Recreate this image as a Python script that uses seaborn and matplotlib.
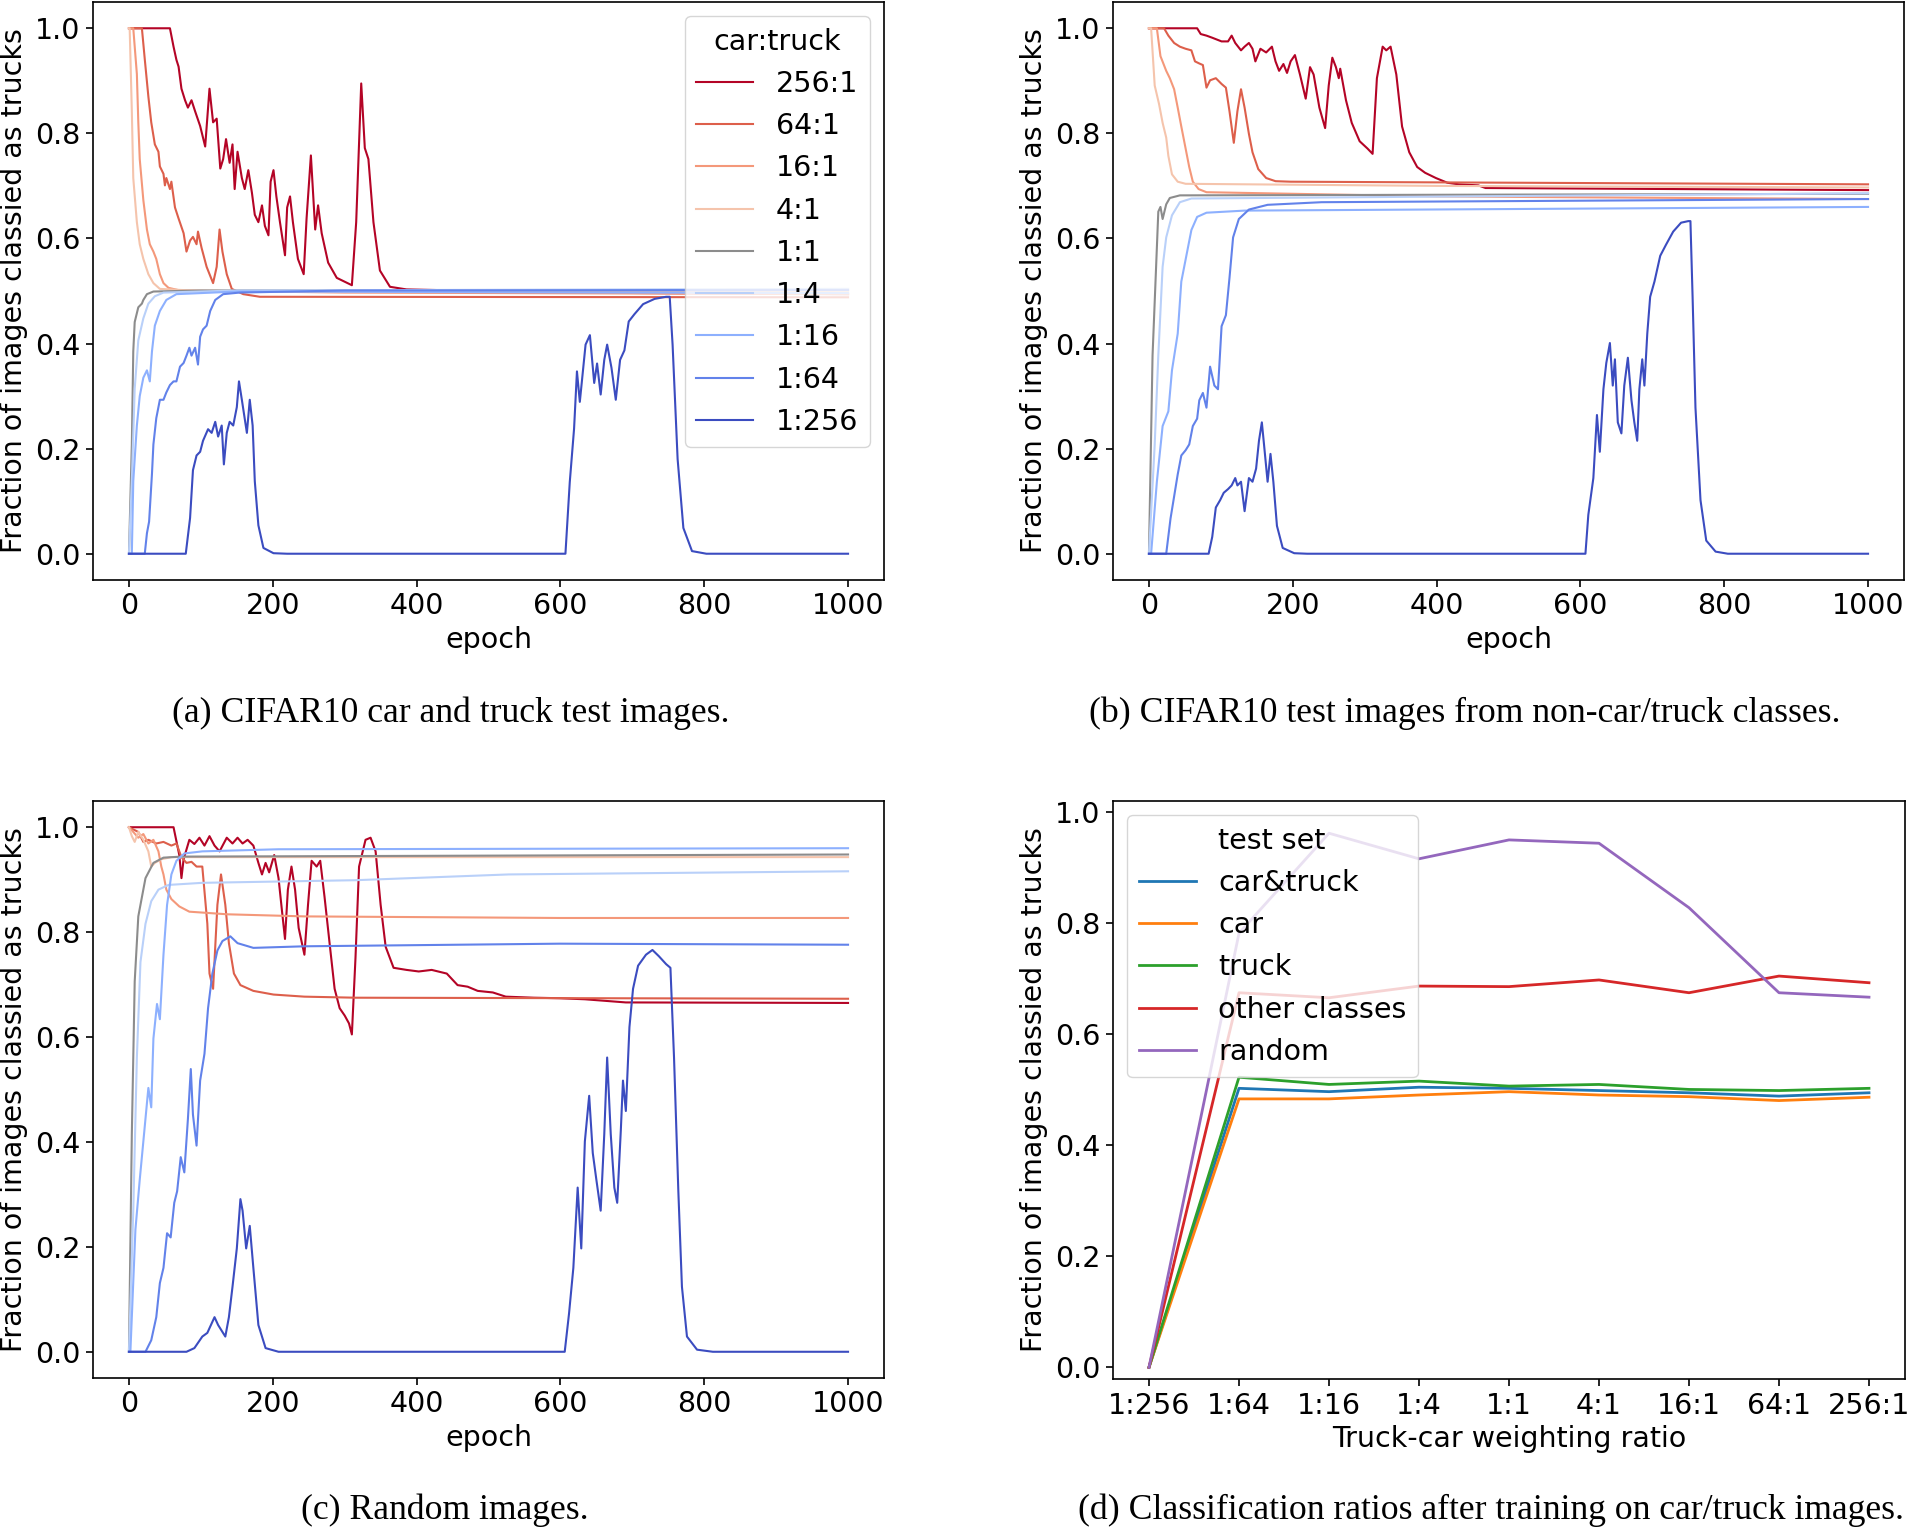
import numpy as np
import pandas as pd
import matplotlib
matplotlib.use("Agg")
import matplotlib.pyplot as plt
import seaborn as sns
from matplotlib.lines import Line2D

# ---------------- data ----------------
RATIOS = ["256:1", "64:1", "16:1", "4:1", "1:1", "1:4", "1:16", "1:64", "1:256"]

# (a) CIFAR10 car and truck test images: (epoch, fraction) pairs
A_256_1 = [(0,1.0),(57,1.0),(62,.965),(66,.94),(69,.927),(73,.885),(78,.863),(82,.849),(87,.863),(92,.842),(99,.814),(106,.775),(112,.885),(117,.821),(122,.828),(127,.733),(131,.751),(135,.789),(140,.744),(144,.779),(147,.694),(151,.765),(157,.715),(161,.694),(166,.730),(171,.687),(175,.645),(180,.631),(185,.663),(189,.624),(194,.606),(197,.708),(201,.730),(205,.680),(210,.631),(217,.568),(220,.659),(224,.680),(228,.631),(235,.561),(243,.532),(247,.638),(253,.758),(259,.617),(263,.663),(268,.610),(277,.554),(289,.525),(310,.511),(316,.631),(323,.895),(328,.772),(333,.751),(340,.631),(349,.539),(363,.508),(386,.503),(600,.497),(1000,.494)]
A_64_1 = [(0,1.0),(18,1.0),(22,.941),(27,.870),(31,.821),(36,.779),(41,.765),(43,.737),(48,.723),(50,.701),(52,.715),(57,.694),(59,.708),(64,.659),(69,.638),(76,.610),(80,.575),(85,.596),(89,.603),(94,.589),(96,.613),(101,.582),(108,.546),(117,.515),(122,.546),(126,.617),(130,.575),(136,.532),(143,.504),(159,.494),(182,.489),(1000,.488)]
A_16_1 = [(0,1.0),(6,1.0),(11,.913),(13,.821),(15,.751),(20,.673),(25,.617),(29,.589),(34,.575),(38,.561),(43,.532),(48,.515),(55,.506),(71,.501),(300,.497),(1000,.494)]
A_4_1 = [(0,1.0),(1,1.0),(4,.842),(6,.715),(11,.631),(15,.589),(20,.561),(27,.532),(34,.515),(43,.504),(100,.500),(1000,.498)]
A_1_1 = [(0,0.0),(4,.208),(6,.385),(8,.441),(13,.469),(18,.476),(20,.483),(25,.494),(34,.499),(100,.501),(1000,.502)]
A_1_4 = [(0,0.0),(4,.138),(8,.314),(13,.406),(20,.448),(27,.476),(36,.490),(48,.497),(150,.501),(1000,.504)]
A_1_16 = [(0,0.0),(4,0.0),(6,.138),(11,.244),(15,.300),(20,.335),(25,.349),(29,.328),(32,.385),(36,.434),(43,.462),(52,.483),(66,.494),(150,.499),(1000,.496)]
A_1_64 = [(0,0.0),(22,0.0),(25,.039),(28,.061),(32,.152),(34,.208),(38,.258),(43,.293),(48,.293),(52,.307),(57,.321),(62,.328),(66,.328),(71,.356),(76,.363),(80,.377),(84,.392),(87,.377),(92,.392),(96,.360),(99,.413),(103,.427),(108,.434),(113,.462),(120,.483),(131,.494),(154,.497),(300,.501),(1000,.502)]
A_1_256 = [(0,0.0),(79,0.0),(85,.068),(89,.159),(94,.187),(99,.194),(103,.215),(110,.237),(115,.230),(120,.251),(124,.223),(129,.244),(132,.170),(136,.230),(140,.251),(145,.244),(150,.279),(153,.328),(157,.293),(164,.230),(168,.293),(172,.244),(175,.138),(180,.054),(187,.011),(201,.001),(220,0.0),(607,0.0),(613,.136),(619,.238),(623,.347),(627,.289),(635,.398),(641,.416),(647,.325),(651,.362),(656,.303),(661,.369),(665,.398),(671,.354),(677,.293),(683,.369),(689,.387),(695,.442),(703,.456),(715,.475),(731,.485),(747,.489),(752,.489),(756,.398),(763,.180),(771,.049),(783,.005),(803,0.0),(1000,0.0)]

# (b) CIFAR10 test images from non-car/truck classes
B_256_1 = [(0,1.0),(67,1.0),(72,.989),(80,.986),(88,.982),(101,.975),(110,.975),(115,.986),(120,.972),(128,.958),(133,.965),(139,.972),(144,.961),(148,.937),(155,.961),(163,.954),(171,.965),(176,.937),(181,.919),(187,.932),(192,.915),(197,.937),(203,.949),(210,.912),(218,.866),(224,.926),(229,.912),(237,.849),(245,.810),(250,.891),(255,.944),(260,.926),(264,.905),(266,.923),(274,.863),(282,.820),(293,.785),(304,.771),(311,.761),(317,.905),(325,.965),(330,.958),(336,.965),(344,.912),(352,.813),(362,.764),(373,.736),(384,.725),(399,.715),(415,.706),(431,.703),(458,.701),(468,.696),(600,.695),(1000,.692)]
B_64_1 = [(0,1.0),(21,1.0),(27,.986),(35,.972),(43,.965),(51,.961),(59,.958),(64,.937),(70,.933),(75,.930),(80,.887),(85,.901),(93,.905),(101,.894),(107,.887),(112,.842),(118,.782),(123,.842),(128,.884),(133,.849),(139,.799),(144,.764),(152,.732),(163,.715),(176,.709),(197,.708),(1000,.703)]
B_16_1 = [(0,1.0),(11,1.0),(16,.947),(24,.919),(29,.905),(35,.884),(40,.849),(45,.813),(51,.771),(56,.736),(61,.708),(69,.694),(80,.688),(400,.680),(1000,.675)]
B_4_1 = [(0,1.0),(3,1.0),(8,.891),(14,.856),(19,.820),(24,.792),(27,.757),(32,.722),(40,.708),(51,.704),(400,.700),(1000,.697)]
B_1_1 = [(0,0.0),(5,.377),(13,.651),(16,.660),(19,.637),(24,.665),(29,.677),(43,.682),(1000,.685)]
B_1_4 = [(0,0.0),(8,.208),(13,.377),(19,.546),(24,.602),(32,.644),(43,.669),(59,.676),(1000,.686)]
B_1_16 = [(0,0.0),(3,0.0),(11,.137),(19,.243),(27,.271),(32,.349),(40,.419),(45,.518),(51,.560),(59,.616),(67,.641),(80,.649),(133,.653),(1000,.660)]
B_1_64 = [(0,0.0),(24,0.0),(30,.067),(35,.109),(40,.151),(45,.187),(51,.197),(56,.208),(61,.243),(67,.257),(70,.292),(75,.306),(80,.278),(85,.356),(91,.320),(96,.313),(101,.433),(107,.454),(112,.525),(117,.602),(125,.637),(139,.655),(165,.664),(240,.669),(1000,.675)]
B_1_256 = [(0,0.0),(83,0.0),(88,.032),(93,.088),(99,.102),(104,.116),(110,.123),(115,.130),(120,.144),(123,.130),(128,.137),(133,.081),(139,.144),(144,.137),(149,.162),(153,.215),(157,.250),(160,.208),(165,.137),(169,.190),(173,.137),(178,.053),(186,.011),(202,.001),(220,0.0),(607,0.0),(611,.074),(618,.144),(623,.264),(627,.194),(632,.313),(636,.363),(641,.401),(645,.320),(648,.370),(652,.250),(657,.229),(661,.320),(666,.373),(671,.292),(675,.250),(679,.215),(682,.313),(686,.370),(689,.320),(693,.419),(697,.489),(703,.518),(711,.567),(719,.588),(729,.613),(740,.630),(750,.633),(753,.633),(756,.489),(760,.278),(767,.102),(775,.025),(788,.004),(805,0.0),(1000,0.0)]

# (c) Random images
C_256_1 = [(0,1.0),(62,1.0),(70,.947),(73,.903),(76,.939),(84,.976),(91,.968),(98,.980),(105,.965),(112,.983),(119,.965),(126,.954),(136,.980),(144,.969),(151,.980),(158,.969),(165,.976),(173,.965),(180,.932),(185,.910),(190,.932),(195,.914),(202,.947),(208,.903),(213,.838),(217,.787),(221,.881),(226,.925),(231,.881),(236,.808),(244,.757),(249,.852),(254,.936),(261,.925),(266,.936),(272,.867),(279,.779),(286,.692),(293,.655),(300,.641),(306,.626),(310,.605),(315,.750),(320,.925),(329,.976),(336,.980),(343,.954),(350,.852),(357,.772),(368,.732),(386,.728),(403,.725),(421,.728),(442,.721),(457,.699),(471,.696),(485,.688),(506,.685),(524,.677),(563,.675),(599,.674),(634,.672),(691,.666),(1000,.665)]
C_64_1 = [(0,1.0),(13,.991),(20,.972),(27,.976),(38,.969),(48,.972),(59,.965),(66,.969),(73,.943),(80,.932),(87,.934),(94,.925),(102,.925),(109,.816),(112,.721),(117,.692),(123,.852),(128,.910),(134,.852),(139,.779),(146,.721),(155,.699),(173,.688),(201,.681),(244,.677),(315,.675),(1000,.673)]
C_16_1 = [(0,1.0),(6,.991),(13,.980),(20,.987),(27,.969),(34,.976),(41,.954),(45,.925),(48,.910),(52,.881),(59,.863),(70,.849),(84,.839),(137,.834),(244,.830),(599,.827),(1000,.827)]
C_4_1 = [(0,1.0),(4,.983),(8,.972),(13,.991),(20,.976),(27,.954),(31,.925),(36,.932),(45,.939),(59,.943),(1000,.943)]
C_1_1 = [(0,0.0),(4,.415),(8,.706),(13,.830),(16,.852),(23,.903),(34,.932),(48,.942),(73,.944),(1000,.948)]
C_1_4 = [(0,0.0),(6,.269),(11,.561),(16,.743),(23,.816),(31,.859),(41,.881),(55,.890),(102,.894),(315,.899),(528,.910),(1000,.916)]
C_1_16 = [(0,0.0),(2,0.0),(9,.233),(15,.328),(22,.430),(27,.503),(31,.466),(34,.597),(39,.663),(43,.634),(48,.757),(53,.852),(59,.910),(66,.936),(77,.950),(102,.954),(208,.958),(1000,.960)]
C_1_64 = [(0,0.0),(23,0.0),(31,.022),(38,.066),(43,.131),(48,.160),(53,.226),(58,.218),(63,.284),(67,.306),(72,.371),(77,.342),(82,.444),(86,.539),(89,.452),(94,.393),(99,.517),(105,.568),(110,.655),(116,.721),(123,.765),(130,.783),(141,.792),(151,.779),(173,.770),(244,.773),(599,.778),(1000,.776)]
C_1_256 = [(0,0.0),(80,0.0),(91,.007),(102,.029),(109,.036),(114,.051),(119,.066),(124,.051),(134,.029),(139,.066),(144,.124),(150,.197),(155,.291),(158,.269),(163,.197),(168,.240),(173,.160),(180,.051),(190,.007),(208,0.0),(606,0.0),(612,.073),(618,.160),(624,.313),(629,.197),(634,.401),(640,.488),(645,.379),(650,.328),(656,.269),(661,.415),(665,.561),(670,.415),(675,.313),(679,.284),(684,.422),(687,.517),(691,.459),(696,.619),(701,.692),(708,.736),(719,.757),(728,.766),(737,.754),(747,.739),(753,.732),(758,.561),(764,.306),(769,.124),(776,.029),(790,.004),(812,0.0),(1000,0.0)]

# (d) Classification ratios after training
D_RATIOS = ["1:256", "1:64", "1:16", "1:4", "1:1", "4:1", "16:1", "64:1", "256:1"]
D_SETS = ["car&truck", "car", "truck", "other classes", "random"]
D_CAR_TRUCK = [0.0, .502, .496, .504, .502, .498, .494, .488, .494]
D_CAR = [0.0, .483, .483, .490, .496, .490, .487, .480, .486]
D_TRUCK = [0.0, .522, .509, .515, .506, .509, .500, .498, .502]
D_OTHER = [0.0, .674, .665, .686, .685, .697, .674, .704, .692]
D_RANDOM = [0.0, .781, .961, .915, .949, .943, .827, .674, .666]

CAPTIONS = ["(a) CIFAR10 car and truck test images.",
            "(b) CIFAR10 test images from non-car/truck classes.",
            "(c) Random images.",
            "(d) Classification ratios after training on car/truck images."]
YLABEL = "Fraction of images classied as trucks"

# ---------------- style ----------------
FS = 20.5
plt.rcParams["font.family"] = ["DejaVu Sans"]
plt.rcParams["font.size"] = FS
plt.rcParams["axes.linewidth"] = 1.2

cmap = plt.get_cmap("coolwarm")
PALETTE = {"256:1": cmap(1.0), "64:1": cmap(0.875), "16:1": cmap(0.75), "4:1": cmap(0.625),
           "1:1": "#8c8c8c", "1:4": cmap(0.375), "1:16": cmap(0.25), "1:64": cmap(0.125),
           "1:256": cmap(0.0)}


def long_frame(curves):
    rows = []
    for ratio, pts in zip(RATIOS, curves):
        for e, v in pts:
            rows.append({"epoch": e, "value": v, "car:truck": ratio})
    return pd.DataFrame(rows)


dfA = long_frame([A_256_1, A_64_1, A_16_1, A_4_1, A_1_1, A_1_4, A_1_16, A_1_64, A_1_256])
dfB = long_frame([B_256_1, B_64_1, B_16_1, B_4_1, B_1_1, B_1_4, B_1_16, B_1_64, B_1_256])
dfC = long_frame([C_256_1, C_64_1, C_16_1, C_4_1, C_1_1, C_1_4, C_1_16, C_1_64, C_1_256])

dfD = pd.DataFrame({
    "ratio": D_RATIOS * 5,
    "value": D_CAR_TRUCK + D_CAR + D_TRUCK + D_OTHER + D_RANDOM,
    "test set": sum([[s] * len(D_RATIOS) for s in D_SETS], []),
})

W, H = 1908, 1527
fig = plt.figure(figsize=(W / 100, H / 100), dpi=100)


def rect(x0, y0, x1, y1):
    return [x0 / W, 1 - y1 / H, (x1 - x0) / W, (y1 - y0) / H]


axA = fig.add_axes(rect(93, 2, 884, 580))
axB = fig.add_axes(rect(1113, 2, 1904, 580))
axC = fig.add_axes(rect(93, 801, 884, 1378))
axD = fig.add_axes(rect(1113, 801, 1905, 1379))

for ax, df, leg in [(axA, dfA, True), (axB, dfB, False), (axC, dfC, False)]:
    sns.lineplot(data=df, x="epoch", y="value", hue="car:truck", hue_order=RATIOS,
                 palette=PALETTE, estimator=None, sort=False, linewidth=1.5,
                 legend=leg, ax=ax)
    ax.set_xlabel("epoch", fontsize=FS, labelpad=4)
    ax.set_ylabel(YLABEL, fontsize=FS, labelpad=5)
    ax.set_xticks([0, 200, 400, 600, 800, 1000])
    ax.set_yticks([0.0, 0.2, 0.4, 0.6, 0.8, 1.0])
    ax.set_xlim(-50, 1050)
    ax.set_ylim(-0.05, 1.05)

h, l = axA.get_legend_handles_labels()
axA.legend(h, l, title="car:truck", loc="upper right", fontsize=FS, title_fontsize=FS,
           handlelength=2.0, labelspacing=0.5, borderpad=0.4)

sns.lineplot(data=dfD, x="ratio", y="value", hue="test set", hue_order=D_SETS,
             palette=sns.color_palette("tab10", 5), sort=False, linewidth=2.0,
             legend=False, ax=axD)
axD.set_xlabel("Truck-car weighting ratio", fontsize=FS, labelpad=4)
axD.set_ylabel(YLABEL, fontsize=FS, labelpad=5)
axD.set_yticks([0.0, 0.2, 0.4, 0.6, 0.8, 1.0])
axD.set_ylim(-0.021, 1.019)
axD.set_xlim(-0.4, 8.4)
handles = [Line2D([], [], color="none")] + [
    Line2D([], [], color=c, lw=2.0) for c in sns.color_palette("tab10", 5)]
axD.legend(handles, ["test set"] + D_SETS, loc="upper left", fontsize=FS,
           handlelength=2.0, labelspacing=0.5, borderpad=0.4)

for ax in (axA, axB, axC, axD):
    ax.tick_params(labelsize=FS, length=5, width=1.2, pad=4)

serif = ["Liberation Serif", "DejaVu Serif"]
CAP_FS = 25.7
fig.text(451 / W, 1 - 722 / H, CAPTIONS[0], ha="center", va="baseline", fontsize=CAP_FS, family=serif)
fig.text(1465 / W, 1 - 722 / H, CAPTIONS[1], ha="center", va="baseline", fontsize=CAP_FS, family=serif)
fig.text(445 / W, 1 - 1519 / H, CAPTIONS[2], ha="center", va="baseline", fontsize=CAP_FS, family=serif)
fig.text(1491 / W, 1 - 1519 / H, CAPTIONS[3], ha="center", va="baseline", fontsize=CAP_FS, family=serif)

fig.savefig("out.png", dpi=100)
